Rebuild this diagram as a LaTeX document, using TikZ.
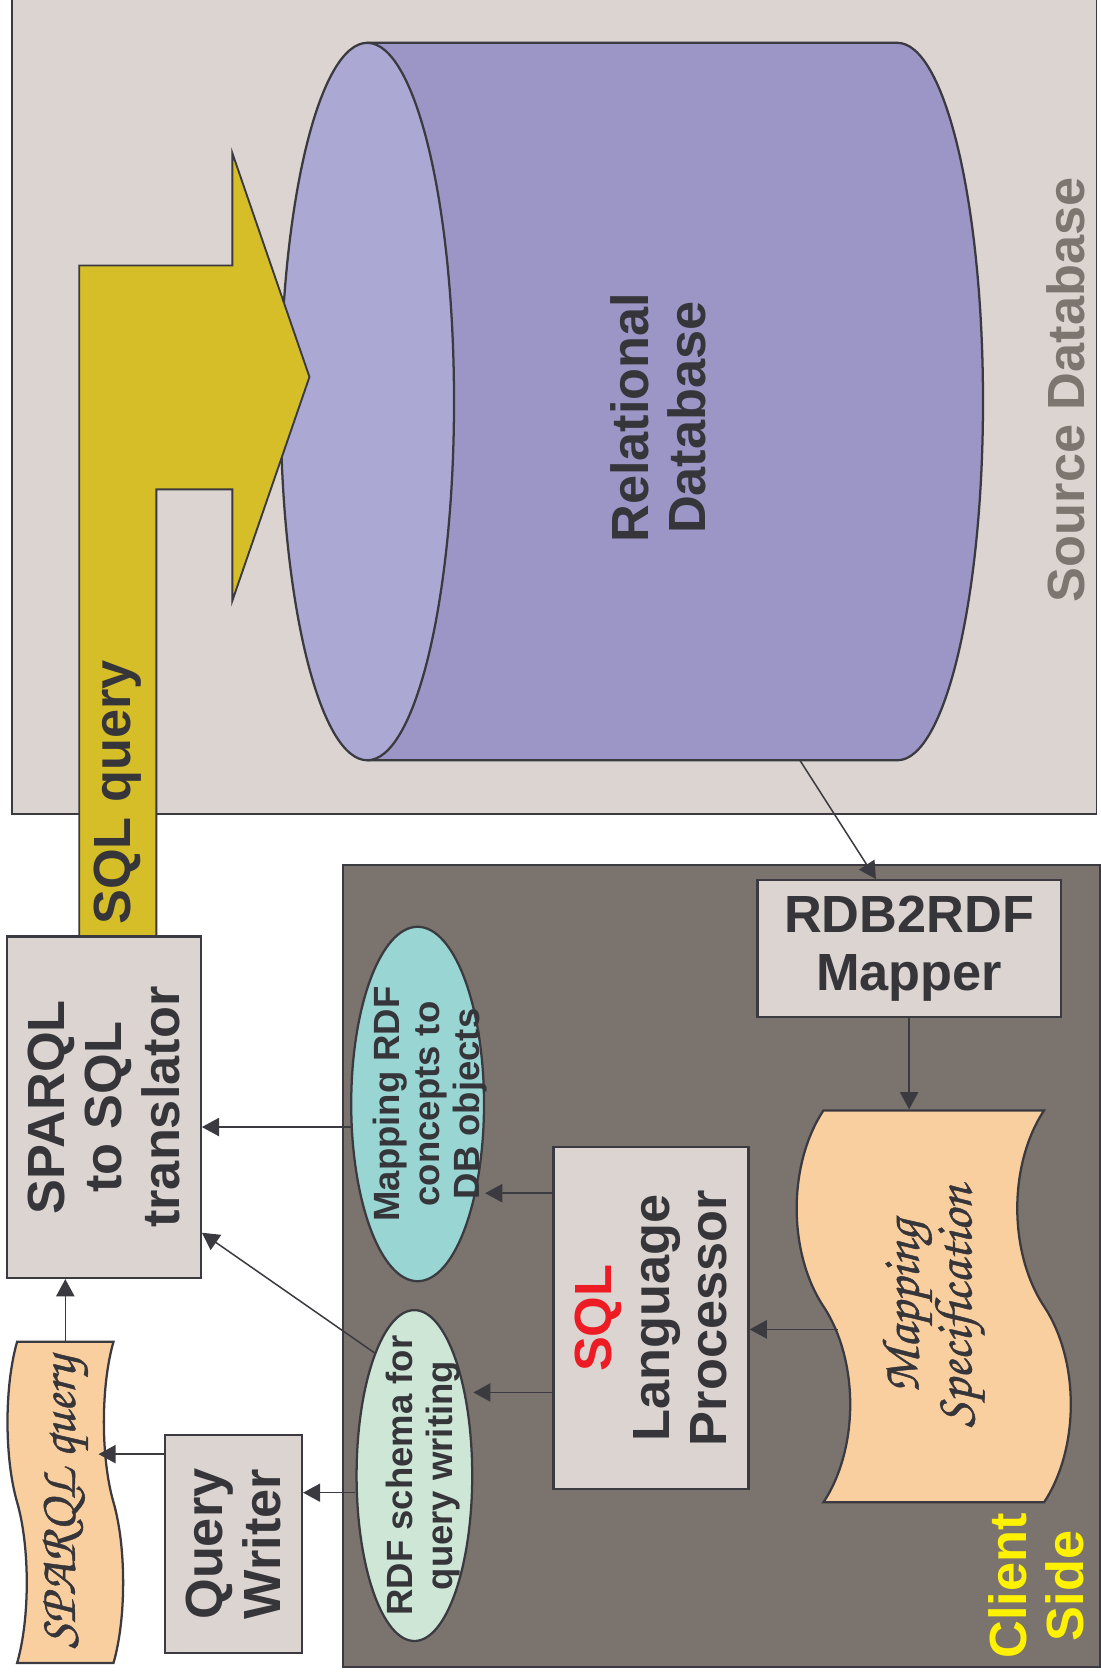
\documentclass[tikz,border=0pt]{standalone}
\usepackage{fontspec}
\setsansfont{Liberation Sans}
\newfontfamily\chorusfont[FakeBold=0.8]{TeX Gyre Chorus}
\usepackage{tikz}
\usetikzlibrary{shapes.geometric,shapes.symbols,arrows.meta}

\definecolor{srcbg}{HTML}{DBD4D0}
\definecolor{clientbg}{HTML}{7B736D}
\definecolor{boxbg}{HTML}{DBD4D0}
\definecolor{dbbody}{HTML}{9B96C6}
\definecolor{dbcap}{HTML}{ACA8D4}
\definecolor{sqlyellow}{HTML}{D6BE28}
\definecolor{peach}{HTML}{FACFA0}
\definecolor{mapteal}{HTML}{98D5D3}
\definecolor{schemagreen}{HTML}{CDE6D6}
\definecolor{linec}{HTML}{3A3A40}
\definecolor{txtc}{HTML}{35353A}
\definecolor{srcgray}{HTML}{7D7670}
\definecolor{clientyellow}{HTML}{FFF200}
\definecolor{sqlred}{HTML}{ED1C24}

\newcommand{\boxfont}{\sffamily\bfseries\fontsize{13.9}{15.2}\selectfont}
\newcommand{\blobfont}{\sffamily\bfseries\fontsize{9.7}{10.7}\selectfont}
\newcommand{\scrollfont}{\chorusfont\fontsize{14.2}{14}\selectfont}

\tikzstyle{box}=[rectangle,draw=linec,line width=0.6pt,fill=boxbg,inner sep=0pt,
text=txtc,align=center,font=\boxfont]
\tikzstyle{turned}=[rotate=90]
\tikzstyle{blob}=[ellipse,draw=linec,line width=0.6pt,inner sep=-0.5cm,
text=txtc,align=center,font=\blobfont,rotate=90]
\tikzstyle{scroll}=[tape,draw=linec,line width=0.6pt,fill=peach,inner sep=0pt,
text=txtc,align=center,font=\scrollfont,rotate=90]
\tikzstyle{sidelabel}=[align=center,font=\boxfont,rotate=90,inner sep=0pt]
\tikzstyle{arrow}=[draw=linec,line width=0.4pt,-{Triangle[length=0.16cm,width=0.17cm]}]

\begin{document}
\begin{tikzpicture}
\useasboundingbox (0,0) rectangle (10.28,-15.68);

% source database side
\draw[draw=linec,line width=0.5pt,fill=srcbg] (0.11,0.05) rectangle (10.24,-7.60);
\node (srcside) [sidelabel,text=srcgray] at (9.95,-3.64) {Source Database};
\fill[dbbody] (3.43,-0.40) -- (8.38,-0.40) arc[start angle=90,end angle=-90,x radius=0.80cm,y radius=3.35cm] -- (3.43,-7.10) -- cycle;
\draw[linec,line width=0.6pt] (3.43,-0.40) -- (8.38,-0.40) arc[start angle=90,end angle=-90,x radius=0.80cm,y radius=3.35cm] -- (3.43,-7.10);
\draw[fill=dbcap,draw=linec,line width=0.6pt] (3.43,-3.75) ellipse [x radius=0.81cm,y radius=3.35cm];
\node (reldb) [sidelabel,text=txtc] at (6.15,-3.90) {Relational\\Database};
\coordinate (dbfoot) at (7.47,-7.10);

% the big SQL query arrow
\draw[fill=sqlyellow,draw=linec,line width=0.5pt] (0.74,-8.75) -- (0.74,-2.48) -- (2.17,-2.48) -- (2.17,-1.43)
  -- (2.89,-3.52) -- (2.17,-5.61) -- (2.17,-4.57) -- (1.46,-4.57) -- (1.46,-8.75) -- cycle;
\node (sqlq) [sidelabel,text=txtc] at (1.10,-7.40) {SQL query};

% client side
\draw[draw=linec,line width=0.6pt,fill=clientbg] (3.20,-8.08) rectangle (10.27,-15.57);
\node (client) [sidelabel,text=clientyellow] at (9.68,-14.81) {Client\\Side};

\node (rdfmap) [box,minimum width=2.83cm,minimum height=1.28cm] at (8.49,-8.86) {RDB2RDF\\Mapper};
\node (mapspec) [scroll,minimum width=3.66cm,minimum height=2.56cm,tape bend height=0.5cm] at (8.72,-12.20) {Mapping\\Specification};
\node (sqlproc) [box,turned,minimum width=3.19cm,minimum height=1.82cm] at (6.08,-12.31) {\textcolor{sqlred}{SQL}\\Language\\Processor};
\node (mapcon) [blob,fill=mapteal,minimum width=3.31cm,minimum height=1.24cm,text height=35pt] at (3.90,-10.31) {Mapping RDF\\concepts to\\DB objects};
\node (rdfsch) [blob,fill=schemagreen,minimum width=3.09cm,minimum height=1.08cm,text height=22.5pt] at (3.87,-13.78) {RDF schema for\\query writing};
\node (sparqlbox) [box,turned,minimum width=3.19cm,minimum height=1.81cm] at (0.97,-10.34) {SPARQL\\to SQL\\translator};
\node (querywr) [box,turned,minimum width=2.04cm,minimum height=1.28cm] at (2.18,-14.42) {Query\\Writer};
\node (sparqlq) [scroll,minimum width=3.0cm,minimum height=1.08cm,tape bend height=0.18cm,font=\chorusfont\fontsize{14}{14}\selectfont] at (0.61,-14.03) {SPARQL query};

\coordinate (qwout) at ([yshift=0.84cm]querywr.north);

\draw [arrow] (dbfoot) -- ([xshift=-0.31cm]rdfmap.north);
\draw [arrow] (rdfmap.south) -- (rdfmap.south |- mapspec.east);
\draw [arrow] ([xshift=0.15cm,yshift=-0.215cm]mapspec.north) -- ([yshift=-0.215cm]mapspec.north -| sqlproc.south);
\draw [arrow] ([yshift=1.167cm]sqlproc.north) -- ([yshift=1.167cm]sqlproc.north -| mapcon.south);
\draw [arrow] ([yshift=-0.694cm]sqlproc.north) -- ([yshift=-0.694cm]sqlproc.north -| rdfsch.south);
\draw [arrow] (mapcon.109) -- (mapcon.109 -| sparqlbox.south);
\draw [arrow] (rdfsch.18) -- (sparqlbox.218);
\draw [arrow] ([yshift=-0.16cm]rdfsch.north) -- ([yshift=-0.16cm]rdfsch.north -| querywr.south);
\draw [arrow] (qwout) -- ([xshift=0.31cm]qwout -| sparqlq.center);
\draw [arrow] (sparqlq.east) -- (sparqlq.east |- sparqlbox.west);

\end{tikzpicture}
\end{document}
